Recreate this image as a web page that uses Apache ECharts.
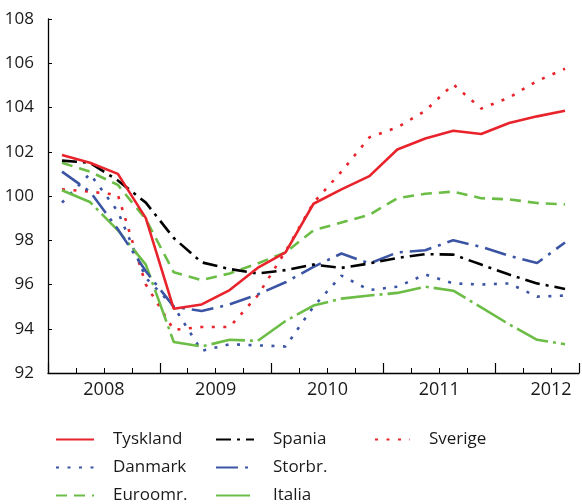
<!DOCTYPE html>
<html>
<head>
<meta charset="utf-8">
<script src="https://cdn.jsdelivr.net/npm/echarts@6/dist/echarts.min.js"></script>
<style>
  html, body { margin: 0; padding: 0; background: #fff; }
  #chart { width: 582px; height: 504px; }
</style>
</head>
<body>
<div id="chart"></div>
<script>
// kvartaler 2008K1 - 2012K3
var quarters = ['2008K1','2008K2','2008K3','2008K4','2009K1','2009K2','2009K3','2009K4',
                '2010K1','2010K2','2010K3','2010K4','2011K1','2011K2','2011K3','2011K4',
                '2012K1','2012K2','2012K3'];
var years = ['2008', '2009', '2010', '2011', '2012'];
var yTicks = [92, 94, 96, 98, 100, 102, 104, 106, 108];

var tyskland = [101.85, 101.5, 101.0, 99.0, 94.9, 95.1, 95.75, 96.75, 97.45, 99.65, 100.3, 100.9, 102.1, 102.6, 102.95, 102.8, 103.3, 103.6, 103.85];
var danmark  = [99.7, 101.0, 99.3, 96.3, 95.0, 93.0, 93.3, 93.25, 93.2, 95.0, 96.4, 95.75, 95.9, 96.45, 96.05, 96.0, 96.05, 95.45, 95.5];
var euroomr  = [101.5, 101.1, 100.5, 98.95, 96.55, 96.2, 96.5, 96.95, 97.45, 98.45, 98.8, 99.15, 99.9, 100.1, 100.2, 99.9, 99.85, 99.68, 99.62];
var spania   = [101.6, 101.5, 100.7, 99.7, 98.1, 97.0, 96.7, 96.5, 96.65, 96.9, 96.75, 96.95, 97.2, 97.37, 97.35, 96.9, 96.45, 96.05, 95.8];
var storbr   = [101.1, 100.2, 98.5, 96.6, 95.0, 94.8, 95.1, 95.55, 96.1, 96.8, 97.4, 96.95, 97.45, 97.55, 98.0, 97.7, 97.3, 96.97, 97.9];
var italia   = [100.26, 99.73, 98.45, 96.9, 93.4, 93.2, 93.5, 93.45, 94.35, 95.05, 95.36, 95.5, 95.62, 95.9, 95.72, 94.97, 94.2, 93.5, 93.3];
var sverige  = [100.3, 100.2, 100.05, 96.0, 93.95, 94.08, 94.08, 95.5, 97.5, 99.7, 101.1, 102.65, 103.1, 103.85, 105.05, 103.95, 104.45, 105.2, 105.75];

var RED = '#e8232b', BLUE = '#3b55a4', GREEN = '#6bbd46', BLACK = '#000';
var FONT = 'Open Sans';

// punkt midt i hvert kvartal
function pts(arr) {
  return arr.map(function (v, i) { return [i + 0.5, v]; });
}

function line(name, data, color, dash) {
  return {
    name: name,
    type: 'line',
    data: pts(data),
    symbol: 'none',
    lineStyle: { color: color, width: 2.6, type: dash, cap: 'butt' },
    itemStyle: { color: color }
  };
}

var legendBase = {
  orient: 'vertical',
  top: 431,
  height: 80,
  padding: 0,
  itemWidth: 38,
  itemHeight: 14,
  itemGap: 11,
  itemStyle: { opacity: 0, color: 'transparent', borderWidth: 0 },
  textStyle: { fontFamily: FONT, fontSize: 17, lineHeight: 14, color: '#1a1a1a', padding: [0, 0, 0, 14] }
};

var myChart = echarts.init(document.getElementById('chart'));
myChart.setOption({
  animation: false,
  grid: { left: 48, top: 19, right: -3, bottom: 131 },
  legend: [
    Object.assign({}, legendBase, { left: 55, data: ['Tyskland', 'Danmark', 'Euroomr.'] }),
    Object.assign({}, legendBase, { left: 215, data: ['Spania', 'Storbr.', 'Italia'] }),
    Object.assign({}, legendBase, { left: 374, itemWidth: 35, data: ['Sverige'] })
  ],
  xAxis: [
    {
      type: 'value',
      min: 0,
      max: quarters.length,
      interval: 4,
      axisLine: { show: true, lineStyle: { color: BLACK, width: 1.3 } },
      axisTick: { show: true, inside: true, length: 10, lineStyle: { color: BLACK, width: 1.2 } },
      minorTick: { show: true, splitNumber: 4, length: 5, lineStyle: { color: BLACK, width: 1 } },
      axisLabel: { show: false },
      splitLine: { show: false }
    },
    {
      type: 'value',
      position: 'bottom',
      min: 0,
      max: quarters.length,
      interval: 2,
      axisLine: { show: false },
      axisTick: { show: false },
      splitLine: { show: false },
      axisLabel: {
        margin: 8,
        color: '#1a1a1a',
        fontFamily: FONT,
        fontSize: 18,
        showMinLabel: false,
        formatter: function (v) {
          return (v % 4 === 2) ? years[(v - 2) / 4] : '';
        }
      }
    }
  ],
  yAxis: {
    type: 'value',
    min: yTicks[0],
    max: yTicks[yTicks.length - 1],
    interval: 2,
    axisLine: { show: true, lineStyle: { color: BLACK, width: 1.3 } },
    axisTick: { show: true, inside: true, length: 4, lineStyle: { color: BLACK } },
    splitLine: { show: false },
    axisLabel: { margin: 14, color: '#1a1a1a', fontFamily: FONT, fontSize: 17 }
  },
  series: [
    line('Sverige', sverige, RED, [3, 8.5]),
    line('Danmark', danmark, BLUE, [3, 8.5]),
    line('Euroomr.', euroomr, GREEN, [11, 7]),
    line('Italia', italia, GREEN, [34, 5, 3, 5]),
    line('Storbr.', storbr, BLUE, [22, 7, 3, 7]),
    line('Spania', spania, BLACK, [15, 6, 3, 6]),
    line('Tyskland', tyskland, RED, 'solid')
  ]
});
</script>
</body>
</html>
